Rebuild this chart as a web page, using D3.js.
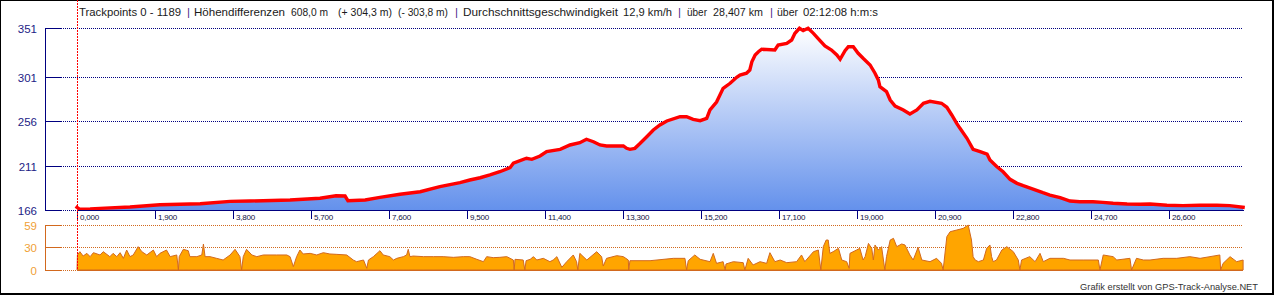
<!DOCTYPE html>
<html><head><meta charset="utf-8">
<script src="https://cdn.jsdelivr.net/npm/d3@7"></script>
<style>html,body{margin:0;padding:0;background:#fff;overflow:hidden}</style>
</head><body><svg id="c" width="1275" height="295"></svg>
<script>
// ---------- data ----------
const elevKm = [0,0.07,0.32,0.56,1.29,2.02,3.00,3.73,4.21,5.19,5.92,6.31,6.53,6.60,7.02,7.38,7.87,8.36,8.84,9.33,9.57,9.82,10.06,10.30,10.55,10.63,10.95,11.08,11.28,11.44,11.77,12.01,12.25,12.41,12.58,12.74,12.90,13.31,13.39,13.47,13.59,13.72,13.88,14.04,14.20,14.37,14.69,14.85,15.01,15.18,15.34,15.42,15.58,15.74,15.91,16.07,16.15,16.31,16.39,16.44,16.52,16.60,16.68,17.00,17.08,17.29,17.41,17.49,17.60,17.69,17.81,17.94,18.10,18.22,18.38,18.51,18.59,18.71,18.79,18.91,19.03,19.15,19.32,19.44,19.52,19.56,19.72,19.81,19.93,20.13,20.29,20.46,20.62,20.78,21.06,21.19,21.31,21.43,21.51,21.68,21.83,22.00,22.17,22.24,22.41,22.56,22.73,22.90,23.05,23.29,23.53,23.70,23.95,24.19,24.43,24.75,24.99,25.24,25.58,25.90,26.14,26.55,26.94,27.35,27.77,28.08,28.407];
const elevM = [168.7,166.7,167.0,167.7,169.0,171.4,172.4,174.8,175.1,176.2,177.9,180.5,180.2,175.5,176.2,178.9,182.0,184.6,189.7,193.8,196.5,198.8,201.6,204.9,209.0,213.5,218.6,217.5,220.9,225.3,227.7,232.1,234.4,237.9,235.4,232.1,231.1,231.1,228.7,227.7,228.7,233.8,240.5,247.3,252.4,256.5,260.8,260.8,258.2,256.8,259.2,267.7,275.8,289.7,294.8,300.9,303.2,305.0,308.3,316.7,323.6,326.9,329.4,328.6,333.7,335.4,338.8,345.6,350.7,348.3,350.7,345.6,338.1,332.7,328.6,323.6,319.2,327.9,332.0,332.0,325.3,320.2,313.4,305.0,298.2,291.3,286.3,277.8,271.7,267.7,263.6,267.7,274.5,276.5,274.5,270.4,262.6,254.1,249.0,238.9,227.7,225.3,222.9,216.8,210.0,204.9,197.2,193.1,190.7,187.3,183.6,181.2,178.5,175.1,174.4,174.4,173.8,172.8,172.1,171.8,172.1,170.8,170.4,170.8,170.8,170.4,168.7];

const speedKm = [0,0.01,0.07,0.15,0.24,0.32,0.40,0.56,0.64,0.80,0.88,0.97,1.05,1.13,1.21,1.29,1.37,1.49,1.58,1.70,1.86,1.94,2.02,2.18,2.27,2.43,2.47,2.49,2.59,2.71,2.75,2.92,3.04,3.08,3.12,3.24,3.40,3.56,3.73,3.85,3.97,4.01,4.05,4.13,4.26,4.38,4.54,4.86,5.11,5.19,5.27,5.35,5.43,5.51,5.68,5.84,6.00,6.16,6.33,6.57,6.73,6.81,6.98,7.06,7.10,7.22,7.38,7.46,7.62,7.71,7.79,7.95,8.03,8.07,8.11,8.19,8.44,8.68,8.92,9.17,9.41,9.57,
 9.74,9.90,9.98,10.14,10.30,10.47,10.63,10.65,10.67,10.87,10.91,10.94,11.04,11.12,11.20,11.36,11.52,11.60,11.69,11.81,11.93,12.09,12.17,12.20,12.25,12.42,12.66,12.78,12.82,12.90,13.15,13.31,13.43,13.44,13.47,13.96,14.53,14.81,14.85,14.89,15.05,15.18,15.42,15.50,15.58,15.74,15.79,15.81,15.99,16.23,16.27,16.35,16.47,16.64,16.80,16.88,17.00,17.13,17.29,17.53,17.65,17.73,17.94,18.06,18.12,18.18,18.25,18.30,18.34,18.42,18.55,18.63,18.75,18.81,
 18.83,18.99,19.07,19.15,19.20,19.28,19.36,19.40,19.44,19.52,19.60,19.68,19.72,19.81,19.89,19.97,20.09,20.17,20.29,20.37,20.49,20.58,20.78,20.94,21.06,21.10,21.19,21.27,21.43,21.59,21.71,21.79,21.83,21.88,21.96,22.08,22.16,22.24,22.28,22.32,22.40,22.53,22.65,22.81,22.93,22.97,23.01,23.21,23.34,23.46,23.54,23.70,24.03,24.19,24.51,24.88,24.92,25.00,25.24,25.33,25.65,25.69,25.81,25.98,26.14,26.46,26.79,27.11,27.36,27.60,27.84,27.86,27.92,28.09,28.25,28.407];
const speedV = [0,19.7,24.0,18.3,21.8,17.5,22.7,19.7,24.0,17.5,21.8,17.5,22.7,15.3,26.2,17.5,19.7,30.6,24.0,19.7,26.2,17.5,21.8,26.2,17.5,19.7,0,17.5,27.1,25.3,17.5,17.5,19.7,34.1,17.5,17.5,15.3,13.1,19.7,27.1,17.5,0,17.5,27.1,19.7,17.5,19.7,19.7,19.7,17.5,4.4,17.5,26.2,21.0,21.8,19.7,22.7,21.0,20.5,19.7,13.1,10.9,13.1,2.2,13.1,17.5,25.3,19.7,17.5,13.1,15.3,17.5,19.7,27.1,17.5,18.3,17.5,17.5,17.5,16.6,17.5,17.5,
 14.0,10.9,17.5,16.2,16.6,17.5,13.1,0,14.0,13.1,0,12.2,14.0,17.5,13.1,15.3,10.9,13.1,17.5,3.5,10.9,19.7,10.9,0,21.8,13.1,24.0,17.5,5.2,15.3,18.8,17.5,13.1,0,12.2,12.2,15.3,15.3,0,12.2,19.7,14.0,10.9,21.8,8.7,10.9,0,7.9,10.9,9.6,0,15.3,6.6,10.9,8.7,22.7,10.9,13.1,9.6,10.9,19.7,10.9,24.0,26.2,0,30.6,39.3,39.3,21.8,24.0,28.4,13.1,10.9,2.2,
 21.8,26.2,28.4,13.1,17.5,34.9,28.4,13.1,32.8,26.2,30.6,0,17.5,39.3,41.5,30.6,34.1,32.8,19.7,13.1,29.7,13.1,10.9,15.3,8.7,0,43.7,50.2,52.4,54.6,59.0,39.3,17.5,13.1,10.9,13.1,28.4,32.8,17.5,10.9,13.1,26.2,30.6,24.0,13.1,0,13.1,17.5,10.9,21.8,10.9,15.3,15.3,13.1,13.1,13.1,0,19.7,17.5,13.1,15.3,0,15.3,13.1,13.1,15.3,15.3,17.5,15.3,17.5,19.7,0,8.7,17.5,10.9,13.1];

const xTicks = [0,1.9,3.8,5.7,7.6,9.5,11.4,13.3,15.2,17.1,19.0,20.9,22.8,24.7,26.6];
const xTickLabels = ["0,000","1,900","3,800","5,700","7,600","9,500","11,400","13,300","15,200","17,100","19,000","20,900","22,800","24,700","26,600"];
const elevTicks = [166,211,256,301,351];
const elevTickLabels = ["166","211","256","301","351"];
const speedTicks = [0,30,59];
const speedTickLabels = ["0","30","59"];
const totalKm = 28.407;
const titleParts = ["Trackpoints 0 - 1189","|","Höhendifferenzen","608,0 m","(+ 304,3 m)","(- 303,8 m)","|","Durchschnittsgeschwindigkeit","12,9 km/h","|","über","28,407 km","|","über","02:12:08 h:m:s"];
const footer = "Grafik erstellt von GPS-Track-Analyse.NET";

// ---------- drawing ----------
const svg = d3.select("#c");
const FONT = "'Liberation Sans', Arial, sans-serif";
const navy = "#000080", choc = "#D2691E";
const axX = 45, tickEnd = 61, gridEnd = 1243;

const x = d3.scaleLinear().domain([0, totalKm]).range([77, 1243.1]);
const yE = d3.scaleLinear().domain([166, 351]).range([210, 28]);
const yS = d3.scaleLinear().domain([0, 59]).range([270, 225]);

const defs = svg.append("defs");
const grad = defs.append("linearGradient").attr("id","eg").attr("gradientUnits","userSpaceOnUse")
  .attr("x1",0).attr("x2",0).attr("y1",yE(351)).attr("y2",yE(166));
grad.append("stop").attr("offset","0%").attr("stop-color","#ffffff");
grad.append("stop").attr("offset","100%").attr("stop-color","#6491ec");

// border
svg.append("rect").attr("x",0.5).attr("y",0.5).attr("width",1272).attr("height",293)
  .attr("fill","none").attr("stroke","#000").attr("stroke-width",1);
svg.append("line").attr("x1",1273.5).attr("x2",1273.5).attr("y1",0).attr("y2",295).attr("stroke","#000");
svg.append("line").attr("x1",0).attr("x2",1274).attr("y1",294.5).attr("y2",294.5).attr("stroke","#000");

// elevation grid
const eg = svg.append("g").attr("shape-rendering","crispEdges");
elevTicks.forEach((t,i) => {
  const yy = Math.round(yE(t)) + 0.5;
  eg.append("line").attr("x1",tickEnd).attr("x2",gridEnd).attr("y1",yy).attr("y2",yy)
    .attr("stroke",navy).attr("stroke-dasharray","1,1");
  eg.append("line").attr("x1",axX).attr("x2",tickEnd).attr("y1",yy).attr("y2",yy)
    .attr("stroke",navy).attr("stroke-width",1.2);
  svg.append("text").attr("x",37).attr("y",yy+4).attr("text-anchor","end")
    .attr("font-family",FONT).attr("font-size",11.5).attr("fill","#1c1c86").text(elevTickLabels[i]);
});
// speed grid
speedTicks.forEach((t,i) => {
  const yy = Math.round(yS(t)) + 0.5;
  eg.append("line").attr("x1",tickEnd).attr("x2",gridEnd).attr("y1",yy).attr("y2",yy)
    .attr("stroke",choc).attr("stroke-dasharray","1,1");
  eg.append("line").attr("x1",axX).attr("x2",tickEnd).attr("y1",yy).attr("y2",yy)
    .attr("stroke",choc).attr("stroke-width",1.2);
  svg.append("text").attr("x",37).attr("y",yy+4).attr("text-anchor","end")
    .attr("font-family",FONT).attr("font-size",11.5).attr("fill","#f0a035").text(speedTickLabels[i]);
});

// elevation area + line
const elev = elevKm.map((k,i) => ({k, v: elevM[i]}));
svg.append("path").datum(elev)
  .attr("d", d3.area().x(d=>x(d.k)).y0(yE(166)).y1(d=>yE(d.v)))
  .attr("fill","url(#eg)");
svg.append("path").datum(elev)
  .attr("d", d3.line().x(d=>x(d.k)).y(d=>yE(d.v)))
  .attr("fill","none").attr("stroke","#ff0000").attr("stroke-width",3.4)
  .attr("stroke-linejoin","miter").attr("stroke-linecap","square");

// speed area
const spd = speedKm.map((k,i) => ({k, v: speedV[i]}));
svg.append("path").datum(spd)
  .attr("d", d3.area().x(d=>x(d.k)).y0(yS(0)).y1(d=>yS(d.v)))
  .attr("fill","#ffa500").attr("stroke",choc).attr("stroke-width",1);
svg.append("line").attr("x1",x(0)).attr("x2",x(totalKm)).attr("y1",270.5).attr("y2",270.5)
  .attr("stroke",choc).attr("stroke-width",1.5).attr("shape-rendering","crispEdges");

// axes lines
const ax = svg.append("g").attr("shape-rendering","crispEdges");
ax.append("line").attr("x1",axX+0.5).attr("x2",axX+0.5).attr("y1",yE(351)).attr("y2",yE(166)+0.5)
  .attr("stroke",navy).attr("stroke-width",1.5);
ax.append("line").attr("x1",axX+0.5).attr("x2",axX+0.5).attr("y1",yS(59)).attr("y2",yS(0)+0.5)
  .attr("stroke",choc).attr("stroke-width",1.5);
ax.append("line").attr("x1",x(0)).attr("x2",x(totalKm)+1).attr("y1",Math.round(yE(166))+0.5).attr("y2",Math.round(yE(166))+0.5)
  .attr("stroke",navy).attr("stroke-width",1.5);

// x ticks
xTicks.forEach((t,i) => {
  const xx = Math.round(x(t)) + 0.5;
  ax.append("line").attr("x1",xx).attr("x2",xx).attr("y1",210).attr("y2",219)
    .attr("stroke",navy).attr("stroke-width",1.2);
  svg.append("text").attr("x",xx+2.5).attr("y",219.5).attr("font-family",FONT)
    .attr("font-size",8).attr("fill","#101040").attr("letter-spacing","-0.2").text(xTickLabels[i]);
});

// red dotted marker line
svg.append("line").attr("x1",77.5).attr("x2",77.5).attr("y1",0).attr("y2",270)
  .attr("stroke","#ff0000").attr("stroke-dasharray","2,1").attr("shape-rendering","crispEdges");

const titleX = [79,187,194,291,338,398,455,463,623,678,687,713,770,777,803];
const titleW = [102,0,91,37,54,50,0,155,49,0,20,50,0,21,75];
titleParts.forEach((s,i) => {
  const t = svg.append("text").attr("x",titleX[i]).attr("y",16).attr("font-family",FONT)
    .attr("font-size",11.5).attr("fill", s === "|" ? "#4b2a8a" : "#1a1a1a").text(s);
  if (titleW[i]) t.attr("textLength",titleW[i]).attr("lengthAdjust","spacingAndGlyphs");
});

// footer
svg.append("text").attr("x",1258).attr("y",289.5).attr("text-anchor","end").attr("font-family",FONT)
  .attr("font-size",9.3).attr("fill","#333").text(footer);
</script>
</body></html>
